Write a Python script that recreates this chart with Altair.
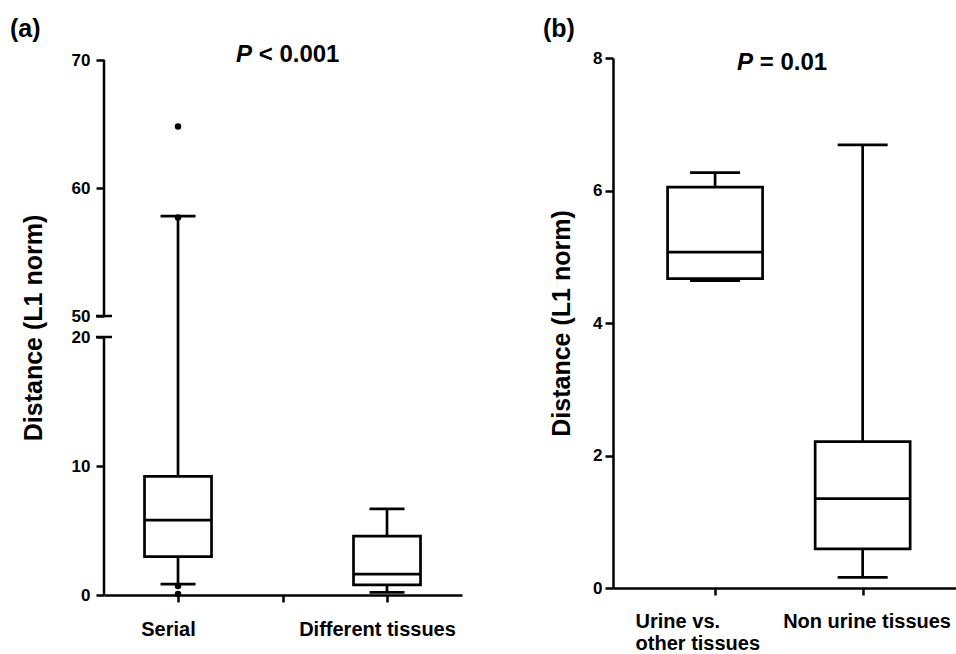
import json
import altair as alt
import pandas as pd

FONT = "Liberation Sans"

# ---------------- data ----------------
# panel (a)
cats_a = ["Serial", "Different tissues"]
pos_a = [1, 2]
lo_a = [0.85, 0.2]
q1_a = [2.97, 0.78]
med_a = [5.8, 1.62]
q3_a = [9.2, 4.57]
hi_a = [57.8, 6.67]
out_pos_a = [1, 1, 1, 1]
out_val_a = [64.8, 57.7, 0.7, 0.08]
ticks_a = [0, 10, 20, 50, 60, 70]
seg_lo_a = [0, 50]
seg_hi_a = [20, 70]
breaks_a = [20, 50]

# panel (b)
cats_b = ["Urine vs.|other tissues", "Non urine tissues"]
pos_b = [1, 2]
lo_b = [4.64, 0.16]
q1_b = [4.67, 0.59]
med_b = [5.07, 1.35]
q3_b = [6.05, 2.21]
hi_b = [6.27, 6.69]
ticks_b = [0, 2, 4, 6, 8]

texts_a = ["(a)", "P", "< 0.001"]
texts_b = ["(b)", "P", "= 0.01"]
ylabel = "Distance (L1 norm)"

# ---------------- layout ----------------
W_A, H_A = 358, 537
W_B, H_B = 343, 530
LW = 2.7
AX = 2.5


def label_expr(cats, pos):
    s = ""
    for c, p in zip(cats, pos):
        lines = c.split("|")
        lit = json.dumps(lines) if len(lines) > 1 else json.dumps(c)
        s += f"datum.value == {p} ? {lit} : "
    return s + "''"


def make_panel(df, out_df, xdomain, xvals, xaxis_extra, ydomain, yrange, yticks,
               y_domain_line, title_pad, label_pad_y, tick_y, box_w, cap_w,
               W, H, texts, txt_pos):
    xkw = dict(values=xvals, title=None, grid=False, domainColor="black",
               domainWidth=AX, tickColor="black", tickWidth=AX, tickSize=7,
               labelFont=FONT, labelFontSize=20, labelFontWeight="bold",
               labelColor="black", labelAngle=0, labelOverlap=False,
               labelFlush=False, labelLineHeight=23)
    xkw.update(xaxis_extra)
    xaxis = alt.Axis(**xkw)
    yaxis = alt.Axis(values=yticks, title=ylabel, grid=False, domain=y_domain_line,
                     domainColor="black", domainWidth=AX, tickColor="black",
                     tickWidth=AX, tickSize=tick_y, labelFont=FONT, labelFontSize=17,
                     labelFontWeight="bold", labelColor="black", labelPadding=label_pad_y,
                     labelOverlap=False, labelFlush=False, titleFont=FONT,
                     titleFontSize=25, titleFontWeight="bold", titleColor="black",
                     titlePadding=title_pad)
    xs = alt.Scale(domain=xdomain, nice=False, zero=False)
    ys = alt.Scale(domain=ydomain, range=yrange, nice=False, zero=False)

    def X():
        return alt.X("pos:Q", scale=xs, axis=xaxis)

    def Y(f):
        return alt.Y(f"{f}:Q", scale=ys, axis=yaxis)

    base = alt.Chart(df)
    layers = [
        base.mark_rule(color="black", strokeWidth=LW).encode(x=X(), y=Y("lo"), y2="hi"),
        base.mark_bar(size=box_w, fill="white", stroke="black", strokeWidth=LW).encode(
            x=X(), y=Y("q1"), y2="q3"),
        base.mark_tick(orient="horizontal", size=box_w, thickness=LW, color="black",
                       opacity=1).encode(x=X(), y=Y("med")),
        base.mark_tick(orient="horizontal", size=cap_w, thickness=LW, color="black",
                       opacity=1).encode(x=X(), y=Y("lo")),
        base.mark_tick(orient="horizontal", size=cap_w, thickness=LW, color="black",
                       opacity=1).encode(x=X(), y=Y("hi")),
    ]
    if out_df is not None:
        layers.append(alt.Chart(out_df).mark_point(filled=True, size=42, color="black",
                                                   opacity=1).encode(x=X(), y=Y("val")))
    # panel label and P value
    (lx, ly), (px, py) = txt_pos
    layers.append(alt.Chart(pd.DataFrame({"t": [texts[0]]})).mark_text(
        align="left", baseline="alphabetic", font=FONT, fontSize=25, fontWeight="bold",
        color="black").encode(text="t:N", x=alt.value(lx), y=alt.value(ly)))
    layers.append(alt.Chart(pd.DataFrame({"t": [texts[1]]})).mark_text(
        align="right", baseline="alphabetic", font=FONT, fontSize=24, fontWeight="bold",
        fontStyle="italic", color="black").encode(text="t:N", x=alt.value(px), y=alt.value(py)))
    layers.append(alt.Chart(pd.DataFrame({"t": [texts[2]]})).mark_text(
        align="left", baseline="alphabetic", font=FONT, fontSize=24, fontWeight="bold",
        color="black", dx=6.7).encode(text="t:N", x=alt.value(px), y=alt.value(py)))
    return layers, Y


# panel (a) with broken axis
df_a = pd.DataFrame({"pos": pos_a, "lo": lo_a, "q1": q1_a, "med": med_a, "q3": q3_a, "hi": hi_a})
out_a = pd.DataFrame({"pos": out_pos_a, "val": out_val_a})
layers_a, Ya = make_panel(
    df_a, out_a,
    xdomain=[1 - 71 / 215, 1 + (W_A - 71) / 215], xvals=[1, 1.5, 2],
    xaxis_extra=dict(labelExpr=label_expr(cats_a, pos_a), labelPadding=17, labelOffset=-10),
    ydomain=[0, 20, 50, 70], yrange=[H_A, 279, 258, 2], yticks=ticks_a,
    y_domain_line=False, title_pad=25, label_pad_y=6, tick_y=8,
    box_w=67, cap_w=35, W=W_A, H=H_A, texts=texts_a,
    txt_pos=[(-94, -21), (148, 4)])
segs = pd.DataFrame({"lo": seg_lo_a, "hi": seg_hi_a})
layers_a.append(alt.Chart(segs).mark_rule(color="black", strokeWidth=AX).encode(
    x=alt.value(0), y=Ya("lo"), y2="hi"))
brk = pd.DataFrame({"b": breaks_a})
layers_a.append(alt.Chart(brk).mark_rule(color="black", strokeWidth=AX).encode(
    x=alt.value(-8), x2=alt.value(8), y=Ya("b")))
panel_a = alt.layer(*layers_a).properties(width=W_A, height=H_A)

# panel (b)
df_b = pd.DataFrame({"pos": pos_b, "lo": lo_b, "q1": q1_b, "med": med_b, "q3": q3_b, "hi": hi_b})
layers_b, Yb = make_panel(
    df_b, None,
    xdomain=[1 - 100 / 152, 1 + (W_B - 100) / 152], xvals=[1, 2],
    xaxis_extra=dict(labelExpr=label_expr(cats_b, pos_b), labelPadding=16, labelOffset=-80,
                     labelAlign="left", labelLineHeight=22),
    ydomain=[0, 8], yrange=[H_B, 0], yticks=ticks_b,
    y_domain_line=True, title_pad=18, label_pad_y=3, tick_y=8,
    box_w=95, cap_w=50, W=W_B, H=H_B, texts=texts_b,
    txt_pos=[(-70, -21), (140, 12)])
panel_b = alt.layer(*layers_b).properties(width=W_B, height=H_B)

chart = alt.hconcat(panel_a, panel_b, spacing=151, bounds="flush").properties(
    padding={"left": 10, "top": 17, "right": 0, "bottom": 0}, background="white"
).configure_view(stroke=None)

chart.save("out.html", embed_options={"renderer": "svg", "actions": False})
